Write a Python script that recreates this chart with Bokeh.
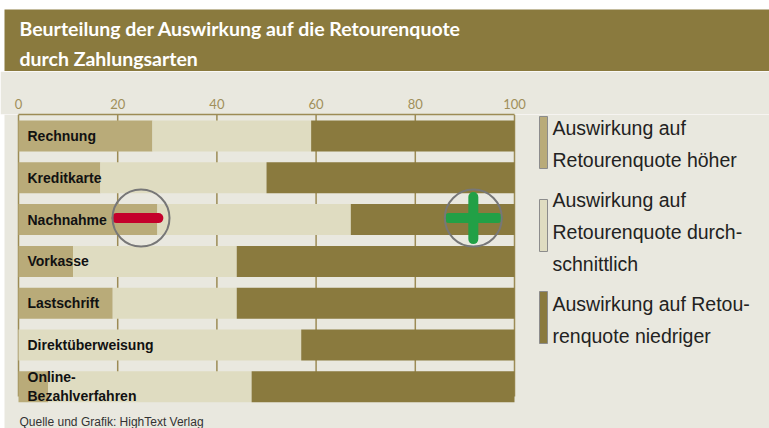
import numpy as np
from bokeh.plotting import figure
from bokeh.layouts import column
from bokeh.models import Range1d, FixedTicker
from bokeh.core.properties import value
from bokeh.embed import file_html
from bokeh.resources import INLINE

# ---------------- data ----------------
title_lines = ["Beurteilung der Auswirkung auf die Retourenquote", "durch Zahlungsarten"]
categories = ["Rechnung", "Kreditkarte", "Nachnahme", "Vorkasse", "Lastschrift",
              "Direktüberweisung", "Online-\nBezahlverfahren"]
hoeher = [27, 16.5, 28, 11, 19, 0, 6]
durchschnittlich = [32, 33.5, 39, 33, 25, 57, 41]
niedriger = [41, 50, 33, 56, 56, 43, 53]
ticks = [0, 20, 40, 60, 80, 100]
series_labels = ["Auswirkung auf\nRetourenquote höher",
                 "Auswirkung auf\nRetourenquote durch-\nschnittlich",
                 "Auswirkung auf Retou-\nrenquote niedriger"]
footer = "Quelle und Grafik: HighText Verlag"

# ---------------- style ----------------
C_HIGH = "#b9ab79"
C_MID = "#dfdcc1"
C_LOW = "#8a7a3e"
C_BG = "#e9e8df"
C_GRID = "#9c8b55"
C_TICK = "#a08f5a"
FONT_T = "Lato"
FONT = "Liberation Sans"

W = 769
H_TITLE = 71
H_MAIN = 357

# ---------------- title band ----------------
t = figure(width=W, height=H_TITLE, x_range=Range1d(0, W), y_range=Range1d(H_TITLE, 0),
           toolbar_location=None, output_backend="svg", min_border=0,
           x_axis_location=None, y_axis_location=None)
t.background_fill_color = "#ffffff"
t.border_fill_color = "#ffffff"
t.outline_line_color = None
t.xgrid.visible = False
t.ygrid.visible = False
t.quad(left=[4], right=[W], top=[9], bottom=[H_TITLE], fill_color=C_LOW, line_color=None)
t.text(x=[19, 19], y=[27.5, 58], text=title_lines, text_color="#ffffff",
       text_font=value(FONT_T), text_font_style="bold", text_font_size="19.5px",
       text_baseline="middle")

# ---------------- main chart ----------------
X0_PX, PX_PER = 18.0, 4.96          # image px of value 0, px per percent
FRAME_TOP_PX = 114.0
x_start = (0 - X0_PX) / PX_PER
x_end = x_start + W / PX_PER
def px2x(px):
    return (px - X0_PX) / PX_PER

ROW0, ROW_STEP, BAR_H = 135.5, 41.8, 31
ys = [ROW0 + ROW_STEP * i for i in range(len(categories))]

p = figure(width=W, height=H_MAIN, x_range=Range1d(x_start, x_end),
           y_range=Range1d(428, FRAME_TOP_PX),
           toolbar_location=None, output_backend="svg",
           x_axis_location="above", y_axis_location=None,
           min_border_left=0, min_border_right=0, min_border_bottom=0,
           min_border_top=int(FRAME_TOP_PX - H_TITLE))
p.background_fill_color = "#ffffff"
p.border_fill_color = C_BG
p.outline_line_color = None
p.xgrid.visible = False
p.ygrid.visible = False
p.quad(left=[px2x(4)], right=[x_end], top=[FRAME_TOP_PX], bottom=[428],
       fill_color=C_BG, line_color=None)

ax = p.xaxis[0]
ax.ticker = FixedTicker(ticks=ticks)
ax.bounds = (0, 100)
ax.axis_line_color = C_GRID
ax.axis_line_width = 1.5
ax.major_tick_line_color = None
ax.minor_tick_line_color = None
ax.major_label_standoff = 0
ax.major_label_text_font = FONT_T
ax.major_label_text_font_size = "13px"
ax.major_label_text_color = C_TICK

# grid lines
p.segment(x0=ticks, x1=ticks, y0=[FRAME_TOP_PX] * len(ticks), y1=[396] * len(ticks),
          line_color=C_GRID, line_width=1.5)

h = np.array(hoeher, dtype=float)
m = np.array(durchschnittlich, dtype=float)
n = np.array(niedriger, dtype=float)
p.hbar(y=ys, left=0, right=h, height=BAR_H, fill_color=C_HIGH, line_color=None)
p.hbar(y=ys, left=h, right=h + m, height=BAR_H, fill_color=C_MID, line_color=None)
p.hbar(y=ys, left=h + m, right=h + m + n, height=BAR_H, fill_color=C_LOW, line_color=None)

p.text(x=[px2x(27)] * len(categories), y=ys, text=categories, text_color="#111111",
       text_font=value(FONT), text_font_style="bold", text_font_size="14px",
       text_baseline="middle", text_line_height=1.18)

# markers on the Nachnahme row
ri = categories.index("Nachnahme")
yc = ys[ri] - 1.5
MINUS_X, PLUS_X = 24.0, 91.7
p.segment(x0=[MINUS_X - 4.2], x1=[MINUS_X + 4.2], y0=[yc], y1=[yc],
          line_color="#c4002b", line_width=10, line_cap="round")
p.segment(x0=[PLUS_X - 4.9], x1=[PLUS_X + 4.9], y0=[yc], y1=[yc],
          line_color="#22a046", line_width=10, line_cap="round")
p.segment(x0=[PLUS_X], x1=[PLUS_X], y0=[yc - 21], y1=[yc + 21],
          line_color="#22a046", line_width=10, line_cap="round")
p.scatter(x=[MINUS_X + 0.7, PLUS_X], y=[yc, yc], marker="circle", size=57,
          fill_color=None, line_color="#777777", line_width=2)

# legend
sw_top = [116, 199, 291]
txt_mid = [127.5, 199.5, 303.5]
colors = [C_HIGH, C_MID, C_LOW]
p.quad(left=[px2x(539)] * 3, right=[px2x(547)] * 3, top=sw_top,
       bottom=[v + 52 for v in sw_top], fill_color=colors, line_color="#8c8c8c", line_width=1)
lx, ly, lt = [], [], []
for base, lab in zip(txt_mid, series_labels):
    for k, line in enumerate(lab.split("\n")):
        lx.append(px2x(552))
        ly.append(base + 32 * k)
        lt.append(line)
p.text(x=lx, y=ly, text=lt, text_color="#222222", text_font=value(FONT),
       text_font_size="19.5px", text_baseline="middle")

p.text(x=[px2x(19)], y=[421], text=[footer], text_color="#333333",
       text_font=value(FONT), text_font_size="12px", text_baseline="middle")

layout = column(t, p, spacing=0)
open("out.html", "w").write(file_html(layout, INLINE))
